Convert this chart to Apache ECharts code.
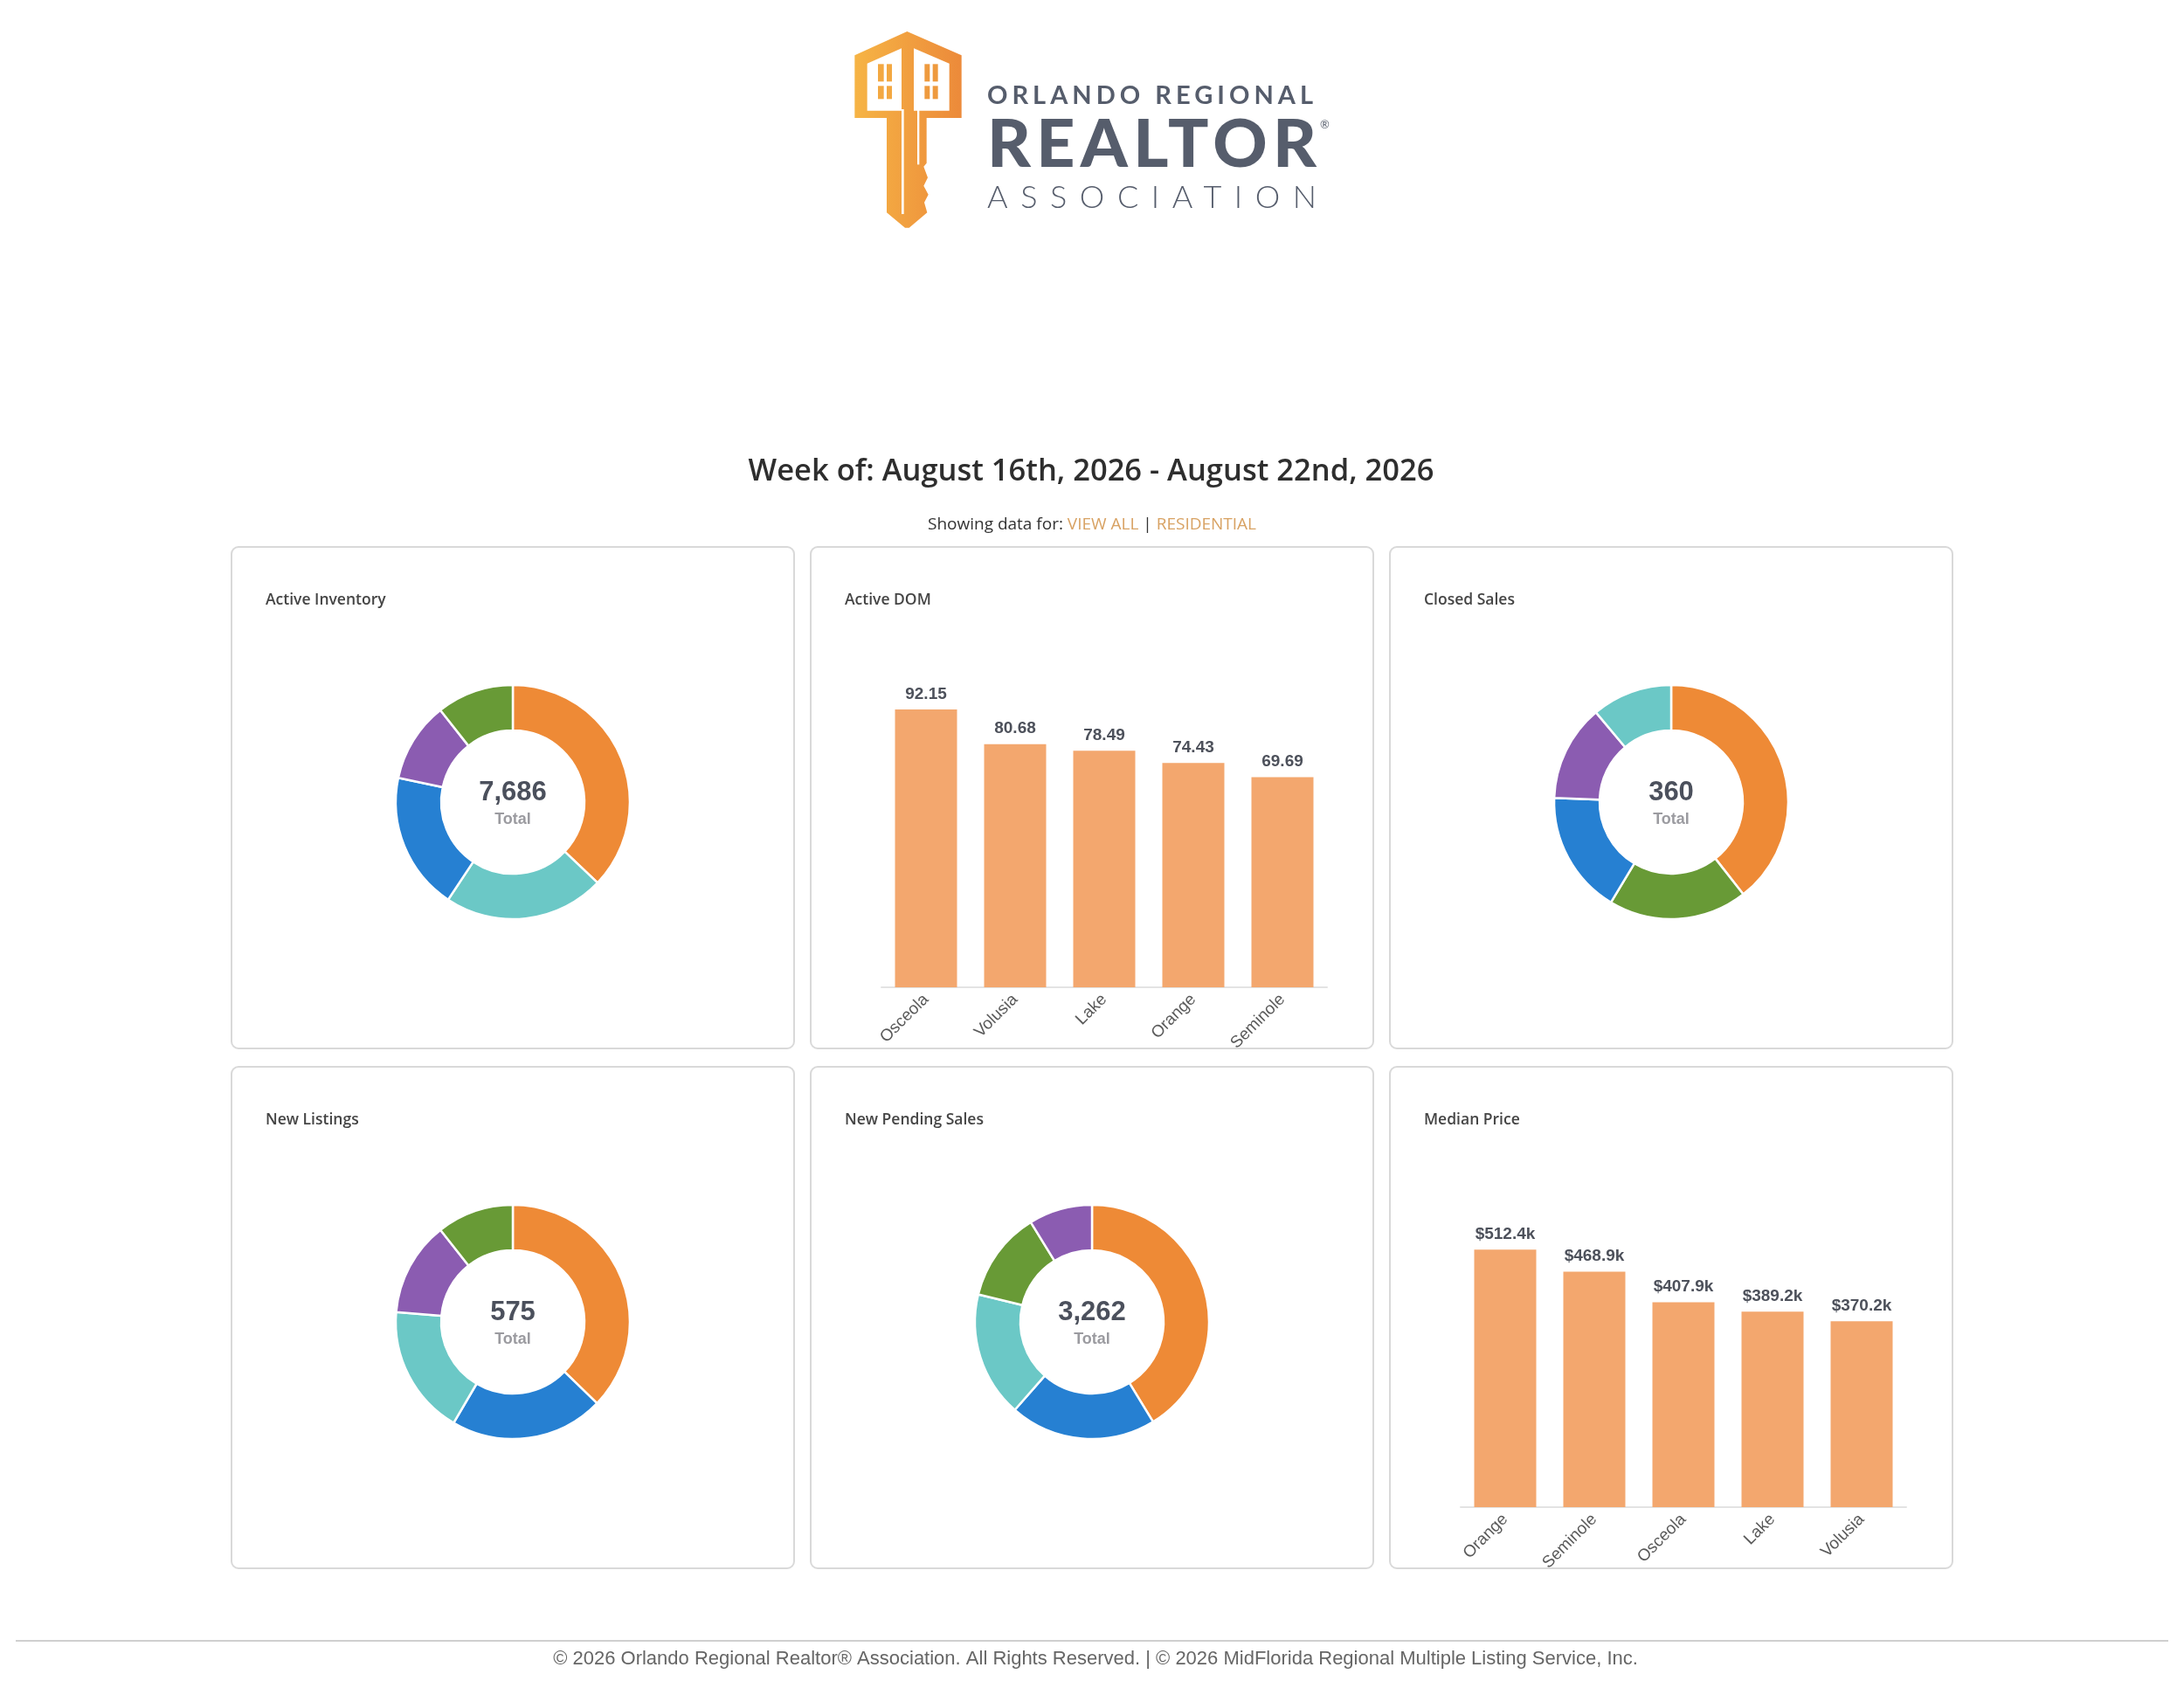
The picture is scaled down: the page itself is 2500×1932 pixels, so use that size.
<!DOCTYPE html>
<html>
<head>
    <meta charset="utf-8" />
    <title>ORRA Weekly Market Snapshot</title>
    <script src="https://cdn.jsdelivr.net/npm/echarts@6/dist/echarts.min.js"></script>
    <style>
        body { margin: 0; background: #fff; }
        #page { position: relative; width: 2500px; height: 1932px; overflow: hidden; }
        #main { position: absolute; left: 0; top: 0; width: 2500px; height: 1932px; }
        .logo { position: absolute; left: 1130px; color: #565d6c; white-space: nowrap; line-height: 1; font-family: Lato, 'Open Sans', sans-serif; }
    </style>
</head>
<body>
<div id="page">
    <div id="main"></div>
    <!-- logo text, letter-spacing fitted below -->
    <div class="logo" id="l1" data-w="373" style="top:93px;font-size:29px;font-weight:700;">ORLANDO REGIONAL</div>
    <div class="logo" id="l2" data-w="377" style="top:123px;font-size:77px;font-weight:900;">REALTOR</div>
    <div class="logo" style="left:1511px;top:136px;font-size:13px;">®</div>
    <div class="logo" id="l3" data-w="377" style="top:206px;font-size:36px;font-weight:300;">ASSOCIATION</div>
</div>
<script>
    // ---- data ----
    var cardTitles = ['Active Inventory', 'Active DOM', 'Closed Sales', 'New Listings', 'New Pending Sales', 'Median Price'];

    var invNames = ['Orange', 'Volusia', 'Osceola', 'Lake', 'Seminole'];
    var invValues = [2852, 1707, 1460, 850, 817];

    var domNames = ['Osceola', 'Volusia', 'Lake', 'Orange', 'Seminole'];
    var domValues = [92.15, 80.68, 78.49, 74.43, 69.69];

    var closedNames = ['Orange', 'Seminole', 'Osceola', 'Lake', 'Volusia'];
    var closedValues = [142, 69, 61, 48, 40];

    var listNames = ['Orange', 'Osceola', 'Volusia', 'Lake', 'Seminole'];
    var listValues = [214, 122, 103, 75, 61];

    var pendNames = ['Orange', 'Osceola', 'Volusia', 'Seminole', 'Lake'];
    var pendValues = [1346, 659, 565, 406, 286];

    var priceNames = ['Orange', 'Seminole', 'Osceola', 'Lake', 'Volusia'];
    var priceValues = [512400, 468900, 407900, 389200, 370200];

    var countyColors = { Orange: '#EE8A36', Volusia: '#6BC8C6', Osceola: '#2680D2', Lake: '#8B5CB1', Seminole: '#689A36' };
    var barColor = '#F3A76E';

    // ---- layout ----
    var cardX = [265, 928, 1591], cardY = [626, 1221], cardW = 644, cardH = 574;
    var ui = "'Open Sans', 'Noto Sans', sans-serif";
    var arial = "'Liberation Sans', Arial, sans-serif";

    function cardPos( i ) { return [cardX[i % 3], cardY[Math.floor( i / 3 )]]; }

    var graphic = [];
    var series = [];
    var grids = [], xAxes = [], yAxes = [];

    // cards and their titles
    cardTitles.forEach( function ( t, i )
    {
        var p = cardPos( i );
        graphic.push( {
            type: 'rect', z: 0, silent: true,
            shape: { x: p[0], y: p[1], width: cardW, height: cardH, r: 8 },
            style: { fill: '#fff', stroke: '#d9d9d9', lineWidth: 2 }
        } );
        graphic.push( {
            type: 'text', z: 10, x: p[0] + 39, y: p[1] + 61,
            style: { text: t, font: '600 17.5px ' + ui, fill: '#454545', textVerticalAlign: 'middle' }
        } );
    } );

    // donuts
    function addDonut( cardIdx, names, values )
    {
        var p = cardPos( cardIdx );
        var cx = p[0] + cardW / 2, cy = p[1] + 292;
        series.push( {
            type: 'pie', silent: true, center: [cx, cy], radius: [82, 134],
            startAngle: 90, clockwise: true, label: { show: false }, labelLine: { show: false },
            itemStyle: { borderColor: '#fff', borderWidth: 2.5 },
            data: names.map( function ( n, k ) { return { name: n, value: values[k], itemStyle: { color: countyColors[n] } }; } )
        } );
        var total = values.reduce( function ( a, b ) { return a + b; }, 0 );
        graphic.push( {
            type: 'text', z: 10, x: cx, y: cy - 11,
            style: { text: total.toLocaleString( 'en-US' ), font: 'bold 31px ' + arial, fill: '#4b505c', textAlign: 'center', textVerticalAlign: 'middle' }
        } );
        graphic.push( {
            type: 'text', z: 10, x: cx, y: cy + 20,
            style: { text: 'Total', font: 'bold 18px ' + arial, fill: '#9b9ba0', textAlign: 'center', textVerticalAlign: 'middle' }
        } );
    }
    addDonut( 0, invNames, invValues );
    addDonut( 2, closedNames, closedValues );
    addDonut( 3, listNames, listValues );
    addDonut( 4, pendNames, pendValues );

    // bars
    function addBars( cardIdx, names, values, max, fmt )
    {
        var p = cardPos( cardIdx );
        var gi = grids.length;
        grids.push( { left: p[0] + 81, top: p[1] + 159, width: 510, height: 345 } );
        xAxes.push( {
            type: 'category', gridIndex: gi, data: names,
            axisLine: { lineStyle: { color: '#e3e3e3', width: 2 } },
            axisTick: { show: false },
            axisLabel: { interval: 0, rotate: 45, margin: 11, fontSize: 19, color: '#5a5a5a', fontFamily: arial }
        } );
        yAxes.push( { type: 'value', gridIndex: gi, min: 0, max: max, show: false, splitLine: { show: false } } );
        series.push( {
            type: 'bar', silent: true, xAxisIndex: gi, yAxisIndex: gi, data: values, barWidth: 71,
            itemStyle: { color: barColor },
            label: { show: true, position: 'top', distance: 8, fontSize: 19, fontWeight: 'bold', fontFamily: arial, color: '#4d515b', formatter: function ( d ) { return fmt( d.value ); } }
        } );
    }
    addBars( 1, domNames, domValues, 100, function ( v ) { return v.toFixed( 2 ); } );
    addBars( 5, priceNames, priceValues, 600000, function ( v ) { return '$' + ( v / 1000 ).toFixed( 1 ) + 'k'; } );

    // headings and footer
    graphic.push( {
        type: 'text', z: 10, x: 1249, y: 540,
        style: { text: 'Week of: August 16th, 2026 - August 22nd, 2026', font: '600 34.5px ' + ui, fill: '#2e2e2e', textAlign: 'center', textVerticalAlign: 'middle' }
    } );
    graphic.push( {
        type: 'text', z: 10, x: 1250, y: 601,
        style: {
            text: '{a|Showing data for: }{b|VIEW ALL}{a| | }{b|RESIDENTIAL}',
            textAlign: 'center', textVerticalAlign: 'middle',
            rich: {
                a: { font: '19px ' + ui, fill: '#333' },
                b: { font: '19px ' + ui, fill: '#D8A263' }
            }
        }
    } );
    graphic.push( { type: 'rect', z: 0, silent: true, shape: { x: 18, y: 1877, width: 2464, height: 2 }, style: { fill: '#cfcfcf' } } );
    graphic.push( {
        type: 'text', z: 10, x: 1254, y: 1899,
        style: { text: '\u00a9 2026 Orlando Regional Realtor\u00ae Association. All Rights Reserved. | \u00a9 2026 MidFlorida Regional Multiple Listing Service, Inc.', font: '22px ' + arial, fill: '#666', textAlign: 'center', textVerticalAlign: 'middle' }
    } );

    // key logo (drawn in 1/3 units from its top-left corner)
    function kp( pts ) { return pts.map( function ( q ) { return [970 + q[0] / 3, 30 + q[1] / 3]; } ); }
    function kr( x, y, w, h, fill ) { return { type: 'rect', z: 12, silent: true, shape: { x: 970 + x / 3, y: 30 + y / 3, width: w / 3, height: h / 3 }, style: { fill: fill } }; }
    var keyFill = { type: 'linear', x: 0, y: 0, x2: 1, y2: 0, colorStops: [{ offset: 0, color: '#F6B445' }, { offset: 1, color: '#EC8A3A' }] };
    graphic.push( {
        type: 'polygon', z: 11, silent: true,
        shape: { points: kp( [[25, 100], [205, 18], [392, 100], [392, 315], [272, 315], [272, 470], [262, 482], [276, 520], [262, 548], [278, 578], [264, 605], [274, 640], [212, 692], [198, 692], [135, 640], [135, 315], [25, 315]] ) },
        style: { fill: keyFill }
    } );
    graphic.push( { type: 'polygon', z: 12, silent: true, shape: { points: kp( [[68, 128], [186, 76], [186, 290], [68, 290]] ) }, style: { fill: '#fff' } } );
    graphic.push( { type: 'polygon', z: 12, silent: true, shape: { points: kp( [[228, 76], [350, 128], [350, 290], [228, 290]] ) }, style: { fill: '#fff' } } );
    graphic.push( kr( 186, 285, 8, 360, '#fff' ) );
    graphic.push( kr( 240, 285, 7, 190, '#fff' ) );
    [[105, 130, 20, 60], [135, 130, 18, 60], [105, 205, 20, 45], [135, 205, 18, 45]].forEach( function ( r ) { graphic.push( kr( r[0], r[1], r[2], r[3], '#F3A842' ) ); } );
    [[265, 130, 18, 60], [293, 130, 18, 60], [265, 205, 18, 45], [293, 205, 18, 45]].forEach( function ( r ) { graphic.push( kr( r[0], r[1], r[2], r[3], '#EE9A3E' ) ); } );

    var myChart = echarts.init( document.getElementById( 'main' ) );
    myChart.setOption( {
        animation: false,
        backgroundColor: '#fff',
        grid: grids,
        xAxis: xAxes,
        yAxis: yAxes,
        series: series,
        graphic: graphic
    } );

    // stretch logo words to their widths
    ['l1', 'l2', 'l3'].forEach( function ( id )
    {
        var el = document.getElementById( id );
        var n = el.textContent.length;
        var w = el.getBoundingClientRect().width;
        var target = +el.getAttribute( 'data-w' );
        el.style.letterSpacing = ( ( target - w ) / ( n - 1 ) ) + 'px';
    } );
</script>
</body>
</html>
